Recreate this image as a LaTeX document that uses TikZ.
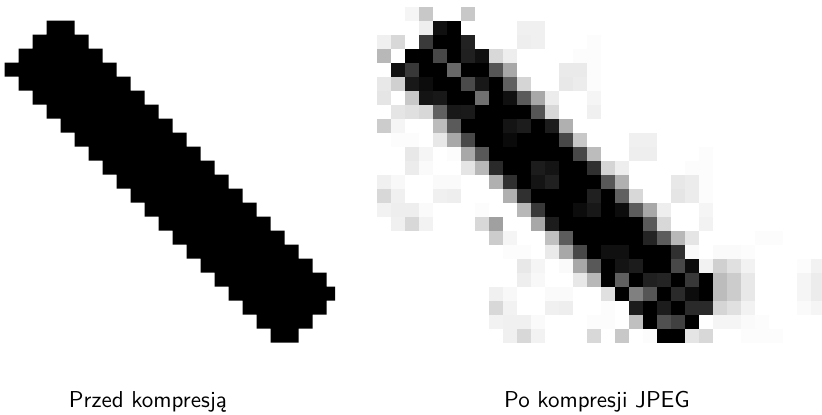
\documentclass[tikz,border=0pt]{standalone}
\tikzset{lbl/.style={anchor=base, inner sep=0pt, font=\sffamily, scale=2.3}}
\begin{document}
\begin{tikzpicture}[x=1pt,y=-1pt]
\useasboundingbox (0,0) rectangle (822,415);
\fill[white] (0,0) rectangle (822,415);
% before compression
\begin{scope}
\clip (0,0) rectangle (335,415);
\begin{scope}[x=14pt,y=-14pt,shift={(4.5pt,-20.5pt)}]
\fill[black] (3,0) rectangle (5,1) (2,1) rectangle (6,2) (1,2) rectangle (7,3)
  foreach \r in {3,...,19}{(\r-3,\r) rectangle (\r+5,\r+1)}
  (17,20) rectangle (23,21) (18,21) rectangle (22,22) (19,22) rectangle (21,23);
\end{scope}
\end{scope}
% after JPEG compression
\begin{scope}
\clip (370,0) rectangle (822,415);
\begin{scope}[x=14pt,y=-14pt,shift={(377pt,-7pt)}]
\foreach \k/\r/\v in {
2/0/245, 3/0/200, 6/0/200,
3/1/238, 4/1/16, 5/1/0, 10/1/240, 11/1/240,
0/2/240, 1/2/216, 3/2/58, 4/2/0, 5/2/0, 6/2/34, 10/2/238, 11/2/240, 15/2/252,
0/3/184, 2/3/0, 3/3/0, 4/3/72, 5/3/0, 6/3/32, 7/3/16, 8/3/216, 9/3/238, 14/3/252, 15/3/252,
1/4/16, 2/4/56, 3/4/0, 4/4/0, 5/4/104, 6/4/0, 7/4/0, 8/4/85, 9/4/168, 13/4/234, 14/4/234, 15/4/252,
0/5/232, 1/5/208, 2/5/24, 3/5/12, 4/5/0, 5/5/0, 6/5/74, 7/5/24, 8/5/0, 9/5/96, 10/5/213, 13/5/232, 14/5/236, 15/5/252,
0/6/229, 2/6/200, 3/6/20, 4/6/24, 5/6/0, 6/6/0, 7/6/112, 8/6/0, 9/6/16, 10/6/90, 11/6/168, 12/6/236, 15/6/245,
1/7/229, 2/7/224, 3/7/216, 4/7/96, 5/7/24, 6/7/26, 7/7/0, 8/7/0, 9/7/0, 10/7/0, 11/7/85, 12/7/216, 15/7/240,
0/8/204, 1/8/245, 4/8/188, 5/8/90, 6/8/0, 7/8/0, 8/8/0, 9/8/20, 10/8/28, 11/8/0, 12/8/28, 13/8/176,
1/9/252, 2/9/252, 4/9/232, 5/9/168, 6/9/72, 7/9/0, 8/9/0, 9/9/10, 10/9/0, 11/9/0, 12/9/0, 13/9/72, 14/9/200, 18/9/240, 19/9/240,
2/10/232, 3/10/245, 5/10/252, 6/10/168, 7/10/88, 8/10/0, 9/10/0, 10/10/0, 11/10/0, 12/10/0, 13/10/0, 14/10/72, 15/10/188, 18/10/238, 19/10/238, 23/10/252,
2/11/236, 3/11/250, 6/11/229, 7/11/184, 8/11/42, 9/11/0, 10/11/0, 11/11/28, 12/11/20, 13/11/0, 14/11/0, 15/11/48, 16/11/213, 17/11/238, 22/11/252, 23/11/252,
0/12/240, 1/12/248, 4/12/250, 5/12/250, 8/12/176, 9/12/48, 10/12/0, 11/12/20, 12/12/32, 13/12/0, 14/12/0, 15/12/0, 16/12/88, 17/12/176, 21/12/232, 22/12/236, 23/12/252,
0/13/216, 1/13/240, 4/13/240, 5/13/238, 9/13/176, 10/13/48, 11/13/0, 12/13/0, 13/13/0, 14/13/0, 15/13/32, 16/13/0, 17/13/96, 18/13/216, 21/13/229, 22/13/236, 23/13/252,
0/14/242, 1/14/238, 2/14/238, 3/14/250, 7/14/252, 10/14/184, 11/14/56, 12/14/0, 13/14/0, 14/14/12, 15/14/24, 16/14/0, 17/14/12, 18/14/92, 19/14/168, 20/14/238, 23/14/245,
1/15/240, 2/15/216, 3/15/242, 7/15/216, 8/15/160, 11/15/168, 12/15/28, 13/15/0, 14/15/0, 15/15/0, 16/15/0, 17/15/0, 18/15/0, 19/15/90, 20/15/216, 23/15/242,
8/16/204, 9/16/245, 12/16/192, 13/16/92, 14/16/0, 15/16/0, 16/16/0, 17/16/0, 18/16/0, 19/16/36, 20/16/92, 21/16/184, 22/16/229, 27/16/252, 28/16/252,
9/17/252, 10/17/252, 12/17/234, 13/17/168, 14/17/72, 15/17/0, 16/17/16, 17/17/16, 18/17/0, 19/17/0, 20/17/0, 21/17/48, 22/17/250, 24/17/250, 25/17/250, 26/17/252,
10/18/232, 11/18/245, 13/18/250, 14/18/168, 15/18/88, 16/18/0, 17/18/20, 18/18/28, 19/18/0, 20/18/0, 21/18/72, 22/18/12, 23/18/242, 24/18/208, 25/18/224, 26/18/242, 30/18/252, 31/18/242,
10/19/238, 11/19/248, 14/19/232, 15/19/184, 16/19/0, 17/19/96, 18/19/0, 19/19/32, 20/19/36, 21/19/0, 22/19/56, 23/19/0, 24/19/188, 25/19/204, 26/19/232, 30/19/245, 31/19/236,
8/20/240, 9/20/248, 12/20/250, 13/20/250, 16/20/224, 17/20/0, 18/20/128, 19/20/85, 20/20/0, 21/20/42, 22/20/12, 23/20/0, 24/20/188, 25/20/204, 26/20/232, 30/20/245, 31/20/236,
8/21/216, 9/21/242, 12/21/240, 13/21/238, 16/21/252, 18/21/28, 19/21/0, 20/21/28, 21/21/0, 22/21/42, 23/21/42, 24/21/213, 25/21/224, 26/21/242, 30/21/250, 31/21/245,
8/22/242, 9/22/240, 10/22/240, 11/22/250, 15/22/252, 16/22/252, 18/22/192, 19/22/0, 20/22/80, 21/22/64, 22/22/0, 24/22/245, 25/22/245, 26/22/250, 27/22/252,
9/23/240, 10/23/216, 11/23/242, 15/23/216, 17/23/200, 19/23/252, 20/23/0, 21/23/0, 22/23/229, 23/23/216, 26/23/252, 27/23/252, 28/23/252}
  \fill[fill={rgb,255:red,\v;green,\v;blue,\v}] (\k,\r) rectangle ++(1,1);
\end{scope}
\end{scope}
% captions
\node[lbl] (before) at (148,407) {Przed kompresją};
\node[lbl] (after) at (597,407) {Po kompresji JPEG};
\end{tikzpicture}
\end{document}
